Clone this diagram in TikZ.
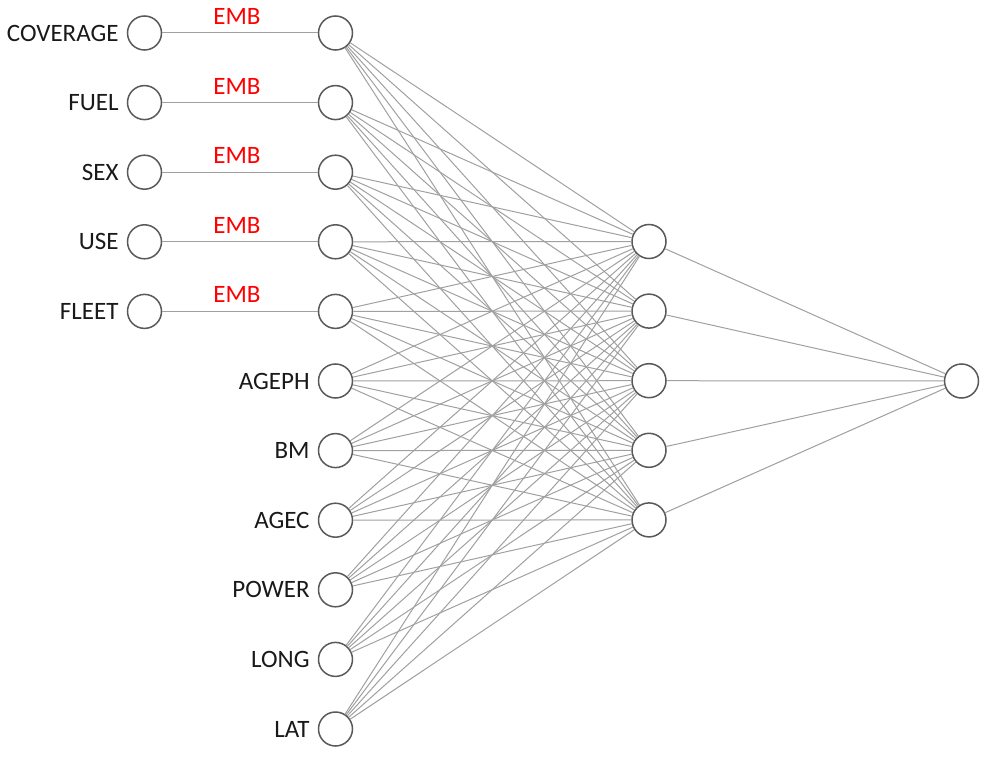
\documentclass[tikz,border=0pt]{standalone}
\usepackage{fontspec}
\setmainfont{Carlito}
\usepackage{tikz}
\usetikzlibrary{positioning}

\tikzset{
  unit/.style={circle, draw={rgb, 255:red, 89; green, 89; blue, 89}, line width=1.5pt, fill=white, minimum size=34pt, inner sep=0pt},
  wire/.style={draw={rgb, 255:red, 160; green, 160; blue, 160}, line width=1pt},
  feat/.style={inner sep=0pt, text={rgb, 255:red, 25; green, 25; blue, 25}, font=\fontsize{25}{30}\selectfont},
  emb/.style={inner sep=0pt, text={rgb, 255:red, 255; green, 0; blue, 0}, font=\fontsize{25}{30}\selectfont}
}

\begin{document}
\begin{tikzpicture}[x=1pt,y=1pt,yscale=-1,xscale=1]
\useasboundingbox (0,0) rectangle (990,762);

% input units and feature labels
\foreach \name [count=\i] in {COVERAGE,FUEL,SEX,USE,FLEET,AGEPH,BM,AGEC,POWER,LONG,LAT}{
  \node[unit] (e\i) at (335.5,{33+69.6*(\i-1)}) {};
  \ifnum\i<6
    \node[unit] (c\i) at (144.5,{33+69.6*(\i-1)}) {};
    \node[feat, left=8pt of c\i] (l\i) {\name};
    \draw[wire] (c\i) -- node[emb, above=8pt, xshift=-3pt] (m\i) {EMB} (e\i);
  \else
    \node[feat, left=8pt of e\i] (l\i) {\name};
  \fi
}

% hidden units
\foreach \j in {1,...,5}
  \node[unit] (h\j) at (649,{241.5+69.6*(\j-1)}) {};

% output unit
\node[unit] (out) at (961.5,381) {};

% connections
\foreach \i in {1,...,11}
  \foreach \j in {1,...,5}
    \draw[wire] (e\i) -- (h\j);
\foreach \j in {1,...,5}
  \draw[wire] (h\j) -- (out);

\end{tikzpicture}
\end{document}
